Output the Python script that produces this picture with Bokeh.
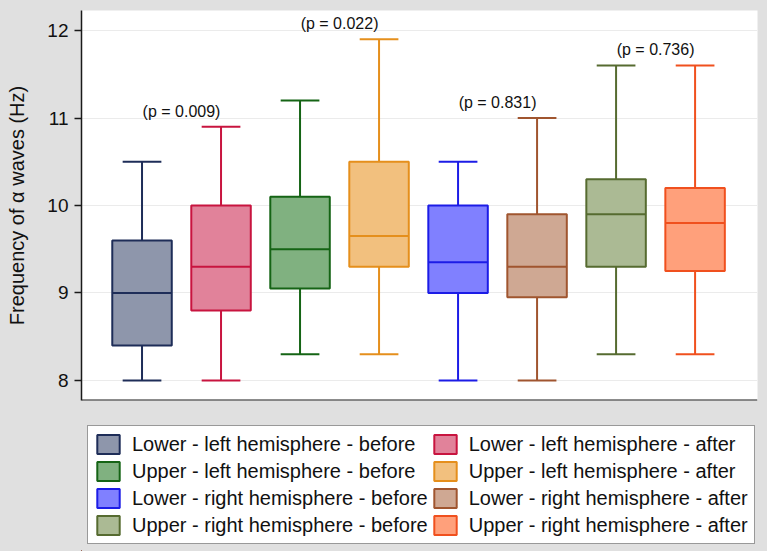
from bokeh.plotting import figure
from bokeh.layouts import column
from bokeh.models import ColumnDataSource, FixedTicker, Legend, LegendItem, Range1d, Span
from bokeh.core.properties import value
from bokeh.embed import file_html
from bokeh.resources import INLINE

# ---- data ----
groups = [
    "Lower - left hemisphere - before", "Lower - left hemisphere - after",
    "Upper - left hemisphere - before", "Upper - left hemisphere - after",
    "Lower - right hemisphere - before", "Lower - right hemisphere - after",
    "Upper - right hemisphere - before", "Upper - right hemisphere - after",
]
minimum = [8.0, 8.0, 8.3, 8.3, 8.0, 8.0, 8.3, 8.3]
q1 = [8.4, 8.8, 9.05, 9.3, 9.0, 8.95, 9.3, 9.25]
median = [9.0, 9.3, 9.5, 9.65, 9.35, 9.3, 9.9, 9.8]
q3 = [9.6, 10.0, 10.1, 10.5, 10.0, 9.9, 10.3, 10.2]
maximum = [10.5, 10.9, 11.2, 11.9, 10.5, 11.0, 11.6, 11.6]
p_labels = ["(p = 0.009)", "(p = 0.022)", "(p = 0.831)", "(p = 0.736)"]
y_ticks = [8, 9, 10, 11, 12]

line_colors = ["#1e2d58", "#c8143f", "#156415", "#e58f1c",
               "#1c1ce6", "#a0552f", "#566b30", "#f0501e"]
fill_colors = ["#8e96ab", "#e1829a", "#80b180", "#f2c07e",
               "#8080ff", "#cfa893", "#abba94", "#ffa07b"]

FONT = "Liberation Sans"
BG = "#e0e0e0"
BOX_W = 0.753
CAP_W = 0.49

xs = list(range(1, len(groups) + 1))
src = ColumnDataSource(dict(
    x=xs, lo=minimum, q1=q1, med=median, q3=q3, hi=maximum,
    bl=[x - BOX_W / 2 for x in xs], br=[x + BOX_W / 2 for x in xs],
    cl=[x - CAP_W / 2 for x in xs], cr=[x + CAP_W / 2 for x in xs],
    fill=fill_colors, line=line_colors, label=groups,
))

# ---------------- main box plot ----------------
p = figure(width=767, height=402,
           x_range=Range1d(0.234, 8.79), y_range=Range1d(7.771, 12.229),
           output_backend="svg", toolbar_location=None, x_axis_location=None,
           min_border_left=81, min_border_right=10, min_border_top=10, min_border_bottom=2,
           background_fill_color="white", border_fill_color=BG,
           outline_line_color=None)

# bottom baseline of the plot region
p.add_layout(Span(location=p.y_range.start, dimension="width",
                  line_color="#1a1a1a", line_width=2))

p.yaxis.ticker = FixedTicker(ticks=y_ticks, minor_ticks=[])
p.yaxis.axis_label = "Frequency of α waves (Hz)"
p.yaxis.axis_label_text_font = FONT
p.yaxis.axis_label_text_font_size = "20px"
p.yaxis.axis_label_text_font_style = "normal"
p.yaxis.axis_label_text_color = "#111111"
p.yaxis.axis_label_standoff = 16
p.yaxis.major_label_text_font = FONT
p.yaxis.major_label_text_font_size = "19px"
p.yaxis.major_label_text_color = "#111111"
p.yaxis.major_label_standoff = 6
p.yaxis.major_tick_in = 0
p.yaxis.major_tick_out = 7
p.yaxis.major_tick_line_width = 1.5
p.yaxis.major_tick_line_color = "#1a1a1a"
p.yaxis.axis_line_color = "#1a1a1a"
p.yaxis.axis_line_width = 1.5
p.ygrid.ticker = FixedTicker(ticks=y_ticks)
p.ygrid.grid_line_color = "#ebebeb"
p.ygrid.grid_line_width = 1.2
p.xgrid.visible = False

# whiskers and caps
p.segment(x0="x", y0="q3", x1="x", y1="hi", source=src, line_color="line", line_width=2)
p.segment(x0="x", y0="q1", x1="x", y1="lo", source=src, line_color="line", line_width=2)
p.segment(x0="cl", y0="hi", x1="cr", y1="hi", source=src, line_color="line", line_width=2)
p.segment(x0="cl", y0="lo", x1="cr", y1="lo", source=src, line_color="line", line_width=2)

# boxes and medians
p.vbar(x="x", width=BOX_W, bottom="q1", top="q3", source=src,
       fill_color="fill", line_color="line", line_width=2)
p.segment(x0="bl", y0="med", x1="br", y1="med", source=src, line_color="line", line_width=2)

# p-value labels above each before/after pair
pair_x = [(xs[2 * i] + xs[2 * i + 1]) / 2 for i in range(len(p_labels))]
pair_y = [max(maximum[2 * i], maximum[2 * i + 1]) + 0.18 for i in range(len(p_labels))]
p.text(x=pair_x, y=pair_y, text=p_labels, text_align="center", text_baseline="middle",
       text_font=value(FONT), text_font_size="16px", text_color="#111111")

# ---------------- legend strip (transparent; the column supplies the grey) ----------------
lg = figure(width=767, height=149,
            x_range=Range1d(100, 101), y_range=Range1d(100, 101),
            output_backend="svg", toolbar_location=None,
            x_axis_location=None, y_axis_location=None,
            min_border_left=81, min_border_right=10, min_border_top=0, min_border_bottom=0,
            background_fill_color=None, border_fill_color=None,
            outline_line_color=None)
lg.xgrid.visible = False
lg.ygrid.visible = False
# same boxes (outside this strip's view) so the legend can show their swatches
legend_boxes = lg.vbar(x="x", width=BOX_W, bottom="q1", top="q3", source=src,
                       fill_color="fill", line_color="line", line_width=2)

order = [0, 2, 4, 6, 1, 3, 5, 7]
items = [LegendItem(label=groups[i], renderers=[legend_boxes], index=i) for i in order]
legend = Legend(items=items, orientation="vertical", nrows=4, location=(6, 7),
                margin=0, padding=6, spacing=3,
                glyph_width=28, glyph_height=24, label_height=24, label_standoff=10,
                label_text_font=FONT, label_text_font_size="20px", label_text_color="#111111",
                border_line_color="#333333", border_line_width=1.5,
                background_fill_color="white", background_fill_alpha=1.0)
lg.add_layout(legend)

layout = column(p, lg, spacing=0, styles={"background-color": BG})
open("out.html", "w").write(file_html(layout, INLINE))
